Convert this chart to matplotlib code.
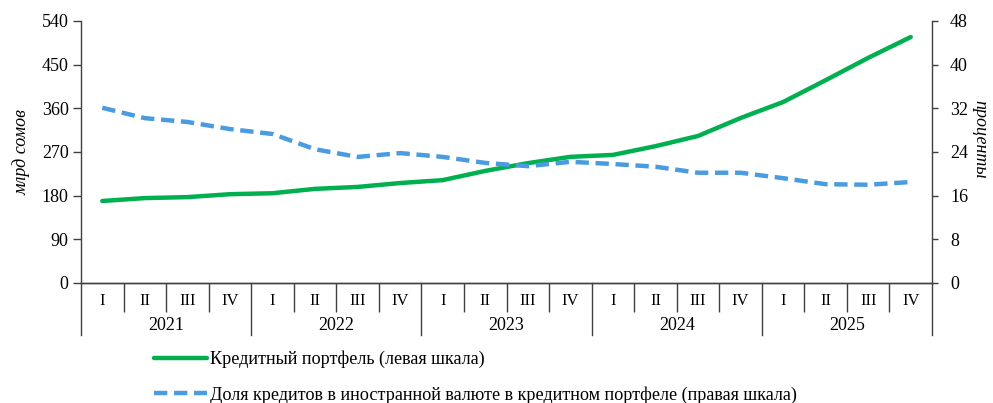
import matplotlib
matplotlib.use('Agg')
import matplotlib.pyplot as plt
import matplotlib.transforms as mtransforms

plt.rcParams['font.family'] = ['Liberation Serif', 'DejaVu Serif']

years = ['2021', '2022', '2023', '2024', '2025']
quarters = ['I', 'II', 'III', 'IV']

# кредитный портфель, млрд сомов (левая шкала)
portfolio = [169, 175, 177, 183, 185, 194, 198, 206, 212, 231, 247, 260,
             264, 282, 303, 340, 373, 418, 464, 507]
# доля кредитов в иностранной валюте, % (правая шкала)
fx_share = [32.1, 30.2, 29.5, 28.2, 27.3, 24.5, 23.1, 23.8, 23.1, 22.0, 21.4, 22.2,
            21.8, 21.3, 20.2, 20.2, 19.2, 18.1, 18.0, 18.5]

green = '#00B050'
blue = '#4A9BE0'
spine_col = '#404040'

fig = plt.figure(figsize=(9.93, 4.03), dpi=100)
ax = fig.add_axes([0.0816, 0.2978, 0.857, 0.6501])
ax2 = ax.twinx()

x = list(range(len(portfolio)))
l1, = ax.plot(x, portfolio, color=green, lw=3.2, solid_capstyle='round')
l2, = ax2.plot(x, fx_share, color=blue, lw=3.2, ls=(0, (3, 1.5)))

ax.set_xlim(-0.5, len(x) - 0.5)
ax.set_ylim(0, 540)
ax.set_yticks(range(0, 541, 90))
ax2.set_ylim(0, 48)
ax2.set_yticks(range(0, 49, 8))

for a in (ax, ax2):
    a.spines['top'].set_visible(False)
    for s in a.spines.values():
        s.set_color(spine_col)
        s.set_linewidth(1.0)
ax.tick_params(axis='y', labelsize=13, length=6, width=1, color=spine_col, pad=3)
ax2.tick_params(axis='y', labelsize=13, length=4, width=1, color=spine_col, pad=9)
ax.spines['right'].set_visible(False)
ax2.spines['left'].set_visible(False)

# подписи кварталов
ax.set_xticks(x)
ax.set_xticklabels(quarters * len(years), fontsize=12)
ax.tick_params(axis='x', length=0, pad=7)
# разделители кварталов
ax.set_xticks([i + 0.5 for i in range(len(x) - 1) if (i + 1) % 4 != 0], minor=True)
ax.tick_params(axis='x', which='minor', length=21, width=1, color=spine_col)

# разделители и подписи годов
trans = mtransforms.blended_transform_factory(ax.transData, ax.transAxes)
for k in range(len(years) + 1):
    xb = k * 4 - 0.5
    ax.plot([xb, xb], [0, -0.2], transform=trans, color=spine_col, lw=1, clip_on=False)
for k, yr in enumerate(years):
    ax.text(k * 4 + 1.5, -0.162, yr, transform=trans, ha='center', va='center', fontsize=13)

ax.set_ylabel('млрд сомов', fontsize=13, style='italic', labelpad=8)
fig.text(0.987, 0.655, 'проценты', fontsize=13, style='italic', rotation=270,
         ha='center', va='center')

fig.legend([l1, l2],
           ['Кредитный портфель (левая шкала)',
            'Доля кредитов в иностранной валюте в кредитном портфеле (правая шкала)'],
           loc='upper left', bbox_to_anchor=(0.146, 0.153), frameon=False, fontsize=13.1,
           handlelength=2.9, handletextpad=0.2, labelspacing=1.0, borderpad=0)

fig.savefig('out.png', dpi=100)
